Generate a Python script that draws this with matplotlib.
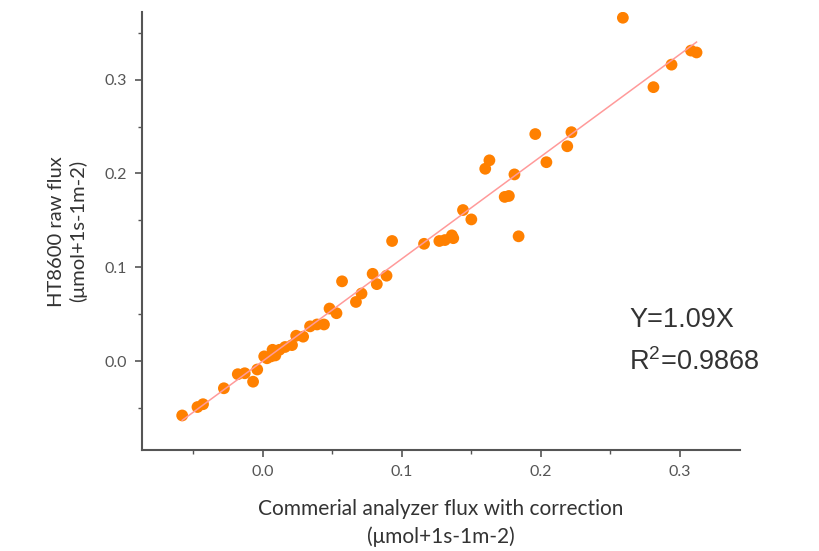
import numpy as np
import matplotlib
matplotlib.use('Agg')
import matplotlib.pyplot as plt
from matplotlib.ticker import MultipleLocator

# pontos (x = analisador comercial, y = HT8600)
x_comercial = [-0.058, -0.047, -0.043, -0.028, -0.018, -0.013, -0.007, -0.004,
               0.001, 0.003, 0.006, 0.007, 0.009, 0.012, 0.016, 0.021, 0.024, 0.029,
               0.034, 0.039, 0.044, 0.048, 0.053, 0.057, 0.067, 0.071, 0.079,
               0.082, 0.089, 0.093, 0.116, 0.127, 0.131, 0.136, 0.137, 0.144,
               0.150, 0.160, 0.163, 0.174, 0.177, 0.181, 0.184, 0.196, 0.204,
               0.219, 0.222, 0.259, 0.281, 0.294, 0.308, 0.312]
y_ht8600 = [-0.058, -0.049, -0.046, -0.029, -0.014, -0.013, -0.022, -0.009,
            0.005, 0.003, 0.005, 0.012, 0.006, 0.012, 0.015, 0.017, 0.027, 0.026,
            0.037, 0.039, 0.039, 0.056, 0.051, 0.085, 0.063, 0.072, 0.093,
            0.082, 0.091, 0.128, 0.125, 0.128, 0.129, 0.134, 0.131, 0.161,
            0.151, 0.205, 0.214, 0.175, 0.176, 0.199, 0.133, 0.242, 0.212,
            0.229, 0.244, 0.366, 0.292, 0.316, 0.331, 0.329]

inclinacao = 1.09
r2 = 0.9868

plt.rcParams['font.family'] = ['Lato', 'DejaVu Sans']
plt.rcParams['mathtext.default'] = 'regular'

fig = plt.figure(figsize=(8.2, 5.51), dpi=100)
ax = fig.add_axes([0.173, 0.183, 0.729, 0.795])

xs = np.array([min(x_comercial), max(x_comercial)])
ax.plot(xs, inclinacao * xs, color='#ff9a9a', lw=1.1, zorder=3)
ax.scatter(x_comercial, y_ht8600, s=72, color='#ff8000', edgecolors='none', zorder=2)

ax.set_xlim(-0.087, 0.343)
ax.set_ylim(-0.095, 0.372)
ax.set_xticks([0.0, 0.1, 0.2, 0.3])
ax.set_yticks([0.0, 0.1, 0.2, 0.3])
ax.xaxis.set_minor_locator(MultipleLocator(0.05))
ax.yaxis.set_minor_locator(MultipleLocator(0.05))
ax.xaxis.set_major_formatter(matplotlib.ticker.FormatStrFormatter('%.1f'))
ax.yaxis.set_major_formatter(matplotlib.ticker.FormatStrFormatter('%.1f'))

for lado in ['top', 'right']:
    ax.spines[lado].set_visible(False)
for lado in ['left', 'bottom']:
    ax.spines[lado].set_color('#555555')
    ax.spines[lado].set_linewidth(1.5)

ax.tick_params(which='major', length=5, width=1.2, color='#555555',
               labelsize=11.5, labelcolor='#555555', pad=6)
ax.tick_params(which='minor', length=3, width=1.0, color='#555555')

ax.set_xlabel('Commerial analyzer flux with correction\n(μmol+1s-1m-2)',
              fontsize=15, color='#333333', labelpad=14, linespacing=1.45)
ax.set_ylabel('HT8600 raw flux\n(μmol+1s-1m-2)',
              fontsize=14.5, color='#333333', labelpad=12, linespacing=1.3)

ax.text(0.2635, 0.044, f'Y={inclinacao}X', fontsize=19.5, color='#333333',
        family=['Liberation Sans', 'DejaVu Sans'], va='center')
ax.text(0.2635, -0.001, f'R$^{{2}}$={r2}', fontsize=19.5, color='#333333',
        family=['Liberation Sans', 'DejaVu Sans'], va='center')

fig.savefig('out.png', dpi=100)
